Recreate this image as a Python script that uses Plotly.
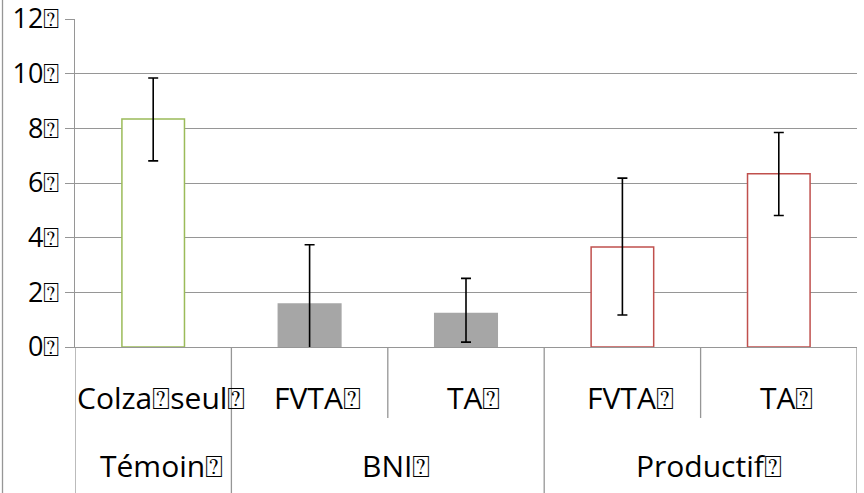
import plotly.graph_objects as go

# Data
groups = ["Témoin⍰", "BNI⍰", "BNI⍰", "Productif⍰", "Productif⍰"]
treatments = ["Colza⍰seul⍰", "FVTA⍰", "TA⍰", "FVTA⍰", "TA⍰"]
values = [8.34, 1.57, 1.23, 3.66, 6.34]
err_plus = [1.50, 2.17, 1.28, 2.52, 1.51]
err_minus = [1.53, 2.17, 1.05, 2.49, 1.53]
y_tickvals = [0, 2, 4, 6, 8, 10, 12]
y_ticktext = ["0⍰", "2⍰", "4⍰", "6⍰", "8⍰", "10⍰", "12⍰"]

fill_colors = ["#ffffff", "#a6a6a6", "#a6a6a6", "#ffffff", "#ffffff"]
line_colors = ["#9bbb59", "#a6a6a6", "#a6a6a6", "#c0504d", "#c0504d"]

GRID = "#969696"
FONT = "Open Sans"
LBL_SIZE = 30

x_idx = list(range(len(treatments)))

fig = go.Figure()
fig.add_trace(go.Bar(
    x=x_idx,
    y=values,
    width=0.4,
    marker=dict(color=fill_colors, line=dict(color=line_colors, width=1.5)),
    error_y=dict(type="data", array=err_plus, arrayminus=err_minus,
                 color="#000000", thickness=1.6, width=5),
    showlegend=False,
    hoverinfo="skip",
))

# Axis-label region: row 1 = treatments, row 2 = groups
row1_bottom = -71 / 328   # paper units (plot height = 328 px)
row_bottom = -146 / 328
shapes = []
annotations = []
n = len(treatments)
for b in range(n + 1):
    xb = b - 0.5
    if b == 0 or b == n or groups[b - 1] != groups[b]:
        y_end = row_bottom
    else:
        y_end = row1_bottom
    shapes.append(dict(type="line", xref="x", yref="paper", x0=xb, x1=xb,
                       y0=0, y1=y_end, line=dict(color=GRID, width=1.3)))

for i, t in enumerate(treatments):
    annotations.append(dict(x=i, y=-50 / 328, xref="x", yref="paper", text=t,
                            showarrow=False, xanchor="center", yanchor="middle",
                            xshift=8, font=dict(size=LBL_SIZE, family=FONT, color="#000000")))

# group labels centred on their span
seen = []
for g in groups:
    if g not in seen:
        seen.append(g)
for g in seen:
    idx = [i for i, gg in enumerate(groups) if gg == g]
    xc = (idx[0] + idx[-1]) / 2
    annotations.append(dict(x=xc, y=-118 / 328, xref="x", yref="paper", text=g,
                            showarrow=False, xanchor="center", yanchor="middle",
                            xshift=8, font=dict(size=LBL_SIZE, family=FONT, color="#000000")))

# outer chart border on the left
shapes.append(dict(type="line", xref="paper", yref="paper",
                   x0=-72.5 / 782, x1=-72.5 / 782, y0=row_bottom, y1=1 + 19 / 328,
                   line=dict(color=GRID, width=1.3)))

fig.update_layout(
    width=864, height=493,
    margin=dict(l=75, r=7, t=19, b=146),
    paper_bgcolor="white", plot_bgcolor="white",
    font=dict(family=FONT, color="#000000"),
    xaxis=dict(
        automargin=False,
        range=[-0.5, n - 0.5],
        showticklabels=False, ticks="",
        showline=True, linecolor=GRID, linewidth=1.3,
        showgrid=False, zeroline=False,
    ),
    yaxis=dict(
        automargin=False,
        range=[0, 12],
        tickvals=y_tickvals, ticktext=y_ticktext,
        ticklabeloverflow="allow",
        showgrid=True, gridcolor=GRID, gridwidth=1.3,
        showline=True, linecolor=GRID, linewidth=1.3,
        ticks="outside", ticklen=9, tickcolor=GRID, tickwidth=1.3,
        tickfont=dict(size=27, family=FONT, color="#000000"),
        zeroline=False,
    ),
    shapes=shapes,
    annotations=annotations,
)

fig.write_html("out.html", config={"displayModeBar": False},
               post_script="document.body.style.margin='0';")
